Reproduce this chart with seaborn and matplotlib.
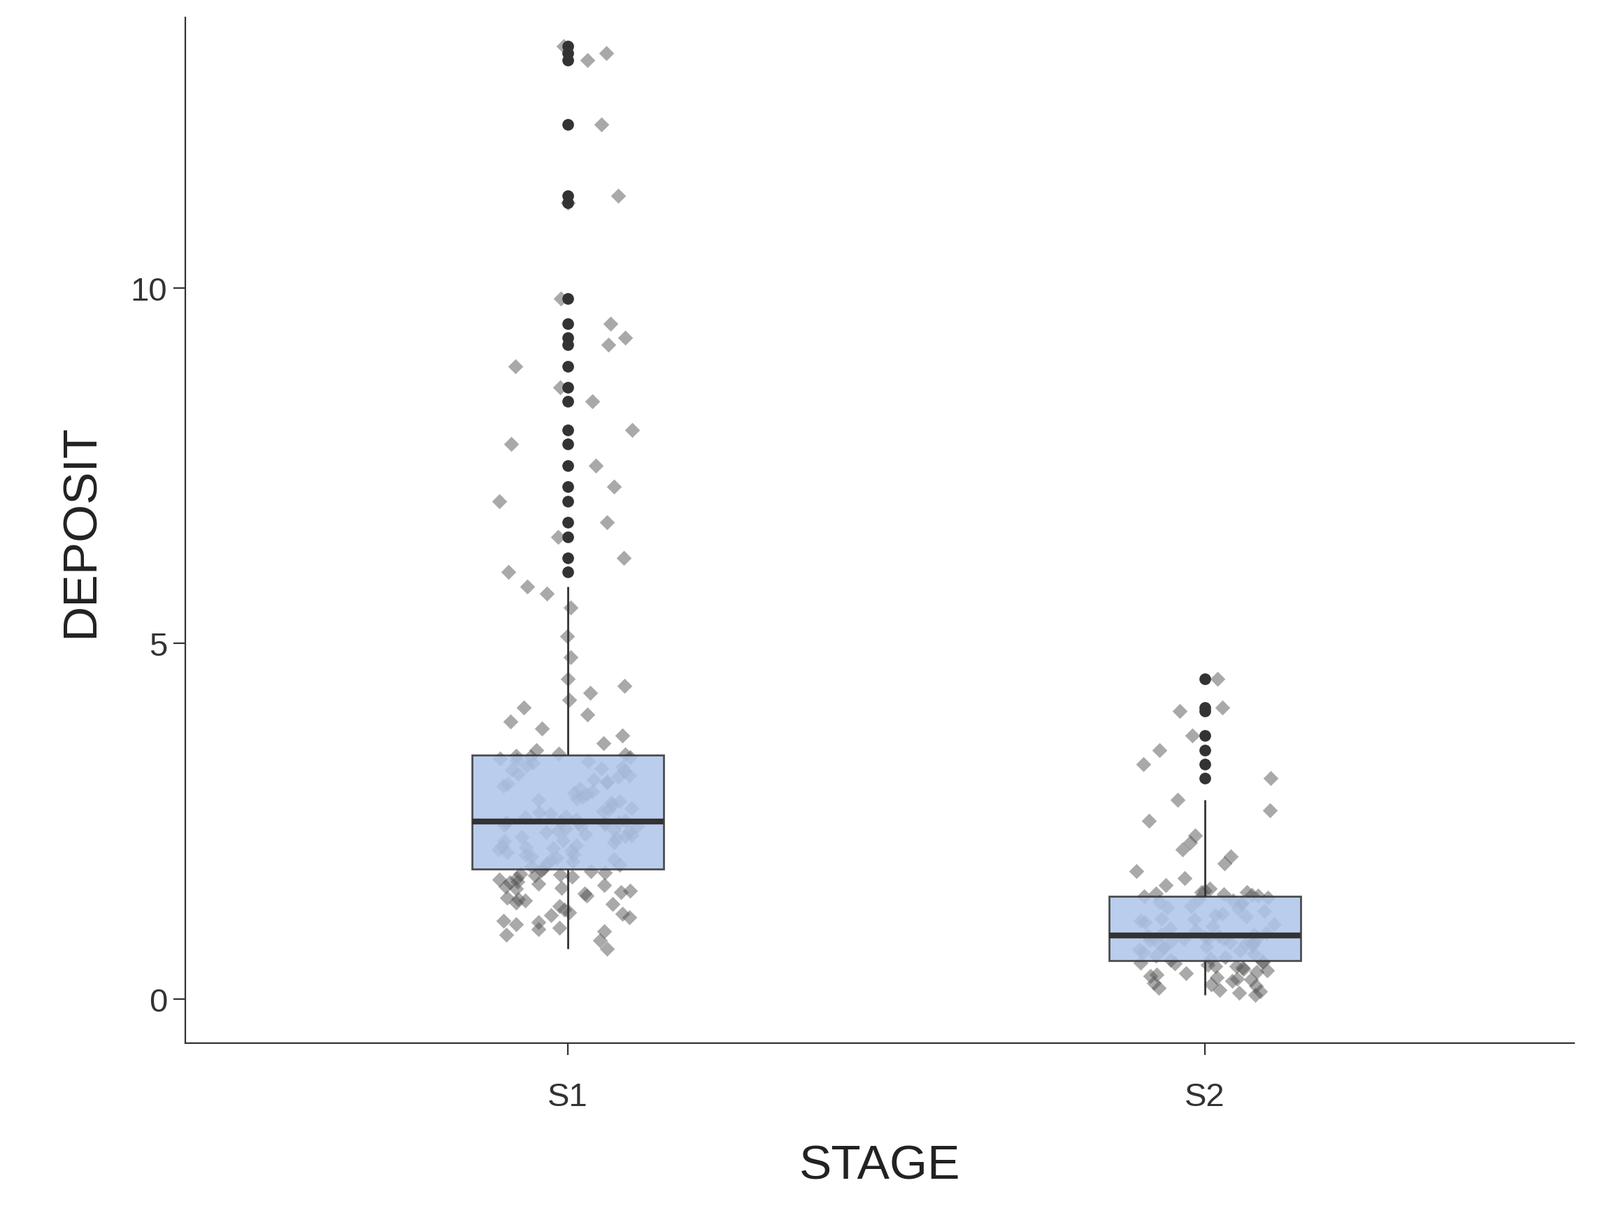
import numpy as np
import pandas as pd
import seaborn as sns
import matplotlib
matplotlib.use("Agg")
import matplotlib.pyplot as plt

stages = ["S1", "S2"]

s1_deposit = [
    0.7, 0.82, 0.9, 0.98, 1.0, 1.05, 1.1, 1.15, 1.18, 1.2, 1.25, 1.3, 1.35, 1.38, 1.4, 1.45,
    1.5, 1.52, 1.55, 1.58, 1.6, 1.62, 1.65, 1.68, 1.7, 1.72, 1.75, 1.76, 1.78, 1.8, 1.83,
    0.95, 1.08, 1.22, 1.33, 1.42, 1.48, 1.56, 1.64, 1.74, 1.81,
    1.86, 1.9, 1.93, 1.96, 1.98, 2.0, 2.03, 2.06, 2.1, 2.12, 2.13, 2.16, 2.2, 2.23, 2.26,
    2.28, 2.29, 2.32, 2.35, 2.37, 2.38, 2.4, 2.42, 2.44, 2.45, 2.46, 2.47, 2.48, 2.49, 2.5,
    1.88, 1.95, 2.02, 2.08, 2.15, 2.22, 2.3, 2.36, 2.43, 2.48,
    2.52, 2.56, 2.6, 2.62, 2.64, 2.68, 2.72, 2.76, 2.8, 2.82, 2.84, 2.88, 2.92, 2.96, 3.0,
    3.02, 3.04, 3.08, 3.12, 3.16, 3.2, 3.22, 3.24, 3.28, 3.32, 3.36, 3.38, 3.4, 3.42, 3.45,
    2.55, 2.66, 2.78, 2.9, 3.05, 3.14, 3.26, 3.34, 3.41, 3.44,
    3.5, 3.6, 3.7, 3.8, 3.9, 4.0, 4.1, 4.2, 4.3, 4.4, 4.5, 4.8, 5.1, 5.5,
    5.7, 5.8, 6.0, 6.2, 6.5, 6.7, 7.0, 7.2, 7.5, 7.8, 8.0, 8.4, 8.6, 8.9, 9.2, 9.3, 9.5,
    9.85, 11.2, 11.3, 12.3, 13.2, 13.3, 13.4,
]
s2_deposit = [
    0.05, 0.08, 0.1, 0.12, 0.15, 0.18, 0.2, 0.22, 0.25, 0.27, 0.28, 0.3, 0.32, 0.34, 0.36,
    0.38, 0.4, 0.42, 0.44, 0.46, 0.46, 0.48, 0.5, 0.51, 0.52, 0.53, 0.55,
    0.57, 0.59, 0.61, 0.63, 0.65, 0.67, 0.69, 0.71, 0.72, 0.73, 0.75, 0.77, 0.78, 0.79, 0.8,
    0.81, 0.82, 0.83, 0.84, 0.84, 0.85, 0.86, 0.87, 0.88, 0.89, 0.9, 0.9,
    0.93, 0.96, 0.99, 1.02, 1.05, 1.08, 1.1, 1.12, 1.13, 1.16, 1.18, 1.2, 1.23, 1.26, 1.28,
    1.3, 1.33, 1.35, 1.36, 1.38, 1.4, 1.42, 1.44, 1.46, 1.47, 1.48, 1.5,
    1.45, 1.5, 1.52, 1.55,
    1.6, 1.7, 1.8, 1.9, 2.0, 2.1, 2.2, 2.3, 2.5, 2.65, 2.8,
    3.1, 3.3, 3.5, 3.7, 4.05, 4.1, 4.5,
]

df = pd.DataFrame({
    "STAGE": [stages[0]] * len(s1_deposit) + [stages[1]] * len(s2_deposit),
    "DEPOSIT": s1_deposit + s2_deposit,
})

sns.set_style("ticks")
plt.rcParams['font.family'] = ['Liberation Sans', 'DejaVu Sans']

fig = plt.figure(figsize=(11.44, 8.78), dpi=200)
ax = fig.add_axes([0.116, 0.15, 0.868, 0.835])

sns.stripplot(data=df, x="STAGE", y="DEPOSIT", order=stages, jitter=0.11, marker="D",
              size=5.5, color="#555555", alpha=0.5, linewidth=0, ax=ax, zorder=1)
sns.boxplot(data=df, x="STAGE", y="DEPOSIT", order=stages, width=0.3, color="#a4c2f4",
            linecolor="#333333", linewidth=1.0, whis=1.5, showcaps=False,
            medianprops=dict(linewidth=3, color="#333333"),
            flierprops=dict(marker="o", markersize=5, markerfacecolor="#333333",
                            markeredgecolor="#333333"),
            ax=ax, zorder=2)
for p in ax.patches:
    p.set_alpha(0.85)
    p.set_edgecolor("#333333")

ax.set_xlim(-0.6, 1.58)
ax.set_ylim(-0.62, 13.8)
ax.set_yticks([0, 5, 10])
ax.tick_params(labelsize=17, length=6, color="#333333", labelcolor="#333333")
ax.tick_params(axis="x", pad=14)
ax.set_xlabel("STAGE", fontsize=25, color="#222222", labelpad=16)
ax.set_ylabel("DEPOSIT", fontsize=25, color="#222222", labelpad=14)
sns.despine(ax=ax)
for s in ["left", "bottom"]:
    ax.spines[s].set_color("#333333")

fig.savefig("out.png", dpi=200)
